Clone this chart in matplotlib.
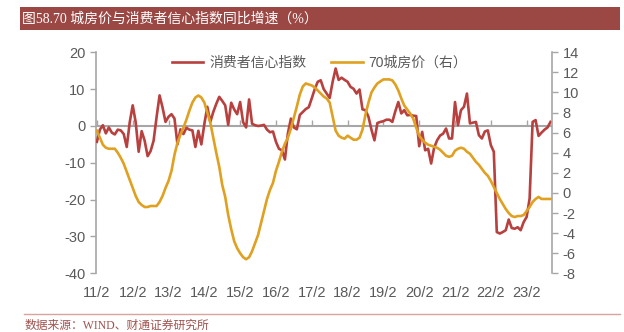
import numpy as np
import matplotlib
matplotlib.use("Agg")
import matplotlib.pyplot as plt
from matplotlib.patches import Rectangle
from matplotlib.lines import Line2D

plt.rcParams['font.family'] = ['Liberation Sans', 'Noto Sans CJK SC', 'DejaVu Sans']
plt.rcParams['axes.unicode_minus'] = False

# 消费者信心指数同比（左轴），月度 2011/2 起
xinxin = [-4.3, -1.0, 0.2, -2.0, -0.4, -1.8, -2.3, -1.0, -1.2, -2.2,
          -5.7, 1.0, 5.6, 1.0, -7.0, -1.4, -4.0, -8.2, -6.8, -4.0,
          2.4, 8.3, 5.0, 1.1, 2.5, 3.2, 2.0, -5.0, -0.9, -2.2,
          -0.5, -1.0, -1.2, -5.7, -1.3, -5.0, 0.5, 5.2, 1.1, 3.8,
          6.0, 7.9, 6.8, 5.6, 0.3, 6.3, 4.5, 3.2, 6.5, 1.0,
          -0.4, 7.2, 0.6, 0.2, 0.0, 0.1, 0.3, -1.0, -1.7, -1.5,
          -4.3, -6.2, -6.6, -9.1, -2.0, 2.0, -0.4, -0.9, 3.0, 3.8,
          4.6, 5.1, 7.5, 10.0, 12.0, 12.4, 10.0, 8.8, 7.6, 12.0,
          15.6, 12.5, 13.1, 12.5, 12.0, 10.6, 10.1, 8.8, 9.9, 4.5,
          4.3, 2.5, -1.0, -3.9, 0.8, 1.1, 1.3, 1.7, 1.7, 1.1,
          4.0, 6.5, 3.4, 4.3, 2.9, 3.0, 2.8, 2.7, -5.5, -1.6,
          -6.6, -6.2, -10.2, -5.9, -3.9, -2.6, -2.1, -0.7, -3.4, -3.4,
          6.5, 0.2, 4.3, 5.2, 8.8, 0.7, 0.9, 1.1, -2.5, -3.4,
          -1.5, -1.2, -5.2, -7.0, -28.8, -29.2, -28.8, -28.3, -25.4, -27.7,
          -27.9, -27.5, -28.3, -26.1, -24.7, -19.7, 1.1, 1.6, -2.7, -1.8,
          -1.0, -0.4, 1.1]

# 70城房价同比（右轴）
fangjia = [6.2, 5.5, 4.8, 4.5, 4.4, 4.4, 4.4, 4.0, 3.5, 2.9,
           2.1, 1.3, 0.5, -0.3, -0.9, -1.2, -1.4, -1.4, -1.3, -1.3,
           -1.3, -0.9, -0.3, 0.5, 1.2, 2.2, 3.8, 5.0, 5.8, 6.5,
           7.3, 8.2, 9.0, 9.5, 9.7, 9.5, 9.0, 8.0, 7.0, 5.5,
           4.0, 2.6, 0.8, -0.4, -2.2, -3.6, -4.8, -5.5, -6.0, -6.4,
           -6.6, -6.4, -5.8, -5.0, -4.2, -3.0, -1.8, -0.6, 0.3, 1.0,
           2.2, 3.1, 4.1, 4.9, 5.5, 6.4, 7.5, 8.6, 9.8, 10.6,
           10.9, 10.8, 10.7, 10.5, 10.2, 9.9, 9.6, 9.4, 9.0, 7.6,
           6.2, 5.7, 5.5, 5.4, 5.7, 5.5, 5.3, 5.3, 5.5, 6.3,
           7.8, 9.0, 10.0, 10.5, 10.9, 11.1, 11.3, 11.3, 11.3, 11.2,
           10.8, 10.2, 9.4, 8.7, 8.3, 7.9, 7.4, 6.5, 5.7, 5.3,
           5.0, 4.8, 4.7, 4.6, 4.5, 4.3, 4.0, 3.7, 3.6, 3.7,
           4.2, 4.4, 4.5, 4.4, 4.1, 3.9, 3.5, 3.1, 2.8, 2.4,
           2.0, 1.7, 1.2, 0.6, 0.0, -0.6, -1.1, -1.6, -2.0, -2.3,
           -2.4, -2.3, -2.3, -2.2, -1.8, -1.4, -0.9, -0.6, -0.4, -0.6,
           -0.6, -0.6, -0.6]

nian = ['11/2', '12/2', '13/2', '14/2', '15/2', '16/2', '17/2',
        '18/2', '19/2', '20/2', '21/2', '22/2', '23/2']

hong = '#B8403E'
huang = '#E0A020'
hui = '#A6A6A6'
zi = '#595959'

x = np.arange(len(xinxin))
xt = np.arange(len(nian)) * 12

fig = plt.figure(figsize=(6.24, 3.32), dpi=100)
ax = fig.add_axes([96/624, 1-273.3/332, 456/624, 221/332])
ax2 = ax.twinx()

# 零轴线放在曲线下面
ax.axhline(0, color=hui, lw=1.5, zorder=1)
l1, = ax.plot(x, xinxin, color=hong, lw=1.9, label='消费者信心指数', zorder=3)
l2, = ax2.plot(x, fangjia, color=huang, lw=1.9, label='70城房价（右）')

ax.set_xlim(-0.3, 152.5)
ax.set_ylim(-40, 20)
ax2.set_ylim(-8, 14)
ax.set_yticks(range(-40, 21, 10))
ax2.set_yticks(range(-8, 15, 2))

for a in (ax, ax2):
    for s in ['top', 'bottom']:
        a.spines[s].set_visible(False)
    a.tick_params(axis='y', colors=hui, labelcolor=zi, labelsize=10.5, length=4, width=1)
ax.spines['right'].set_visible(False)
ax2.spines['left'].set_visible(False)
ax.spines['left'].set_color(hui)
ax2.spines['right'].set_color(hui)
ax.spines['left'].set_linewidth(1.2)
ax2.spines['right'].set_linewidth(1.2)

# 横轴标签放在底部，刻度线画在零轴上
ax.set_xticks(xt)
ax.set_xticklabels(nian)
ax.tick_params(axis='x', length=0, labelcolor=zi, labelsize=10.5, pad=9)

y0, y1 = ax.get_ylim()
zero = ax.secondary_xaxis((0 - y0) / (y1 - y0))
zero.set_xticks(xt)
zero.set_xticklabels([])
zero.tick_params(axis='x', colors=hui, length=4, width=1)
for sp in zero.spines.values():
    sp.set_visible(False)

ax.legend(handles=[l1, l2], loc='upper center', bbox_to_anchor=(0.49, 1.04),
          ncol=2, frameon=False, fontsize=10, labelcolor=zi,
          handlelength=2.3, columnspacing=1.8, handletextpad=0.4)

# 标题栏
fig.add_artist(Rectangle((20/624, 1-30/332), 600/624, 23/332,
                         transform=fig.transFigure, color='#9B4844', lw=0))
fig.text(22/624, 1-18.5/332, '图58.70 城房价与消费者信心指数同比增速（%）',
         color='white', fontsize=10, va='center', ha='left',
         family=['Liberation Serif', 'Noto Sans CJK SC'])

# 资料来源
fig.add_artist(Line2D([24/624, 620/624], [1-314/332, 1-314/332],
                      transform=fig.transFigure, color='#D9A3A0', lw=1))
fig.text(25/624, 1-326/332, '数据来源：WIND、财通证券研究所',
         color='#A0524E', fontsize=8.5, va='center', ha='left',
         family=['Liberation Serif', 'Noto Sans CJK SC'])

fig.savefig('out.png', dpi=100)
